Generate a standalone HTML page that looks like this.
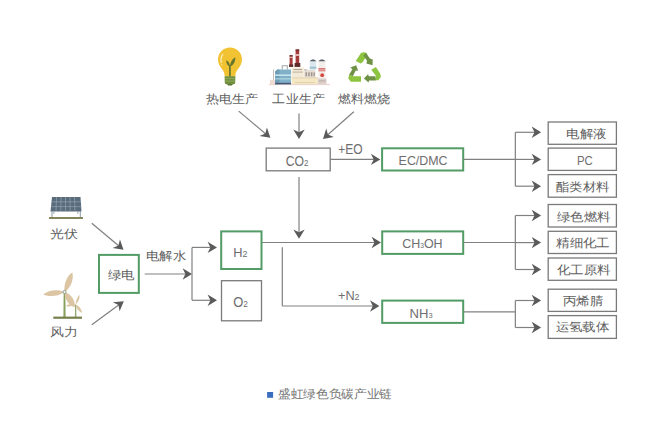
<!DOCTYPE html>
<html><head><meta charset="utf-8">
<style>
html,body{margin:0;padding:0;background:#ffffff;}
body{width:667px;height:425px;overflow:hidden;position:relative;}
svg{position:absolute;left:0;top:0;}
text{font-family:"Liberation Sans", sans-serif;}
</style></head><body>
<svg width="667" height="425" viewBox="0 0 667 425">

<!-- bulb -->
<g>
  <path d="M230 47.4 C 236.8 47.4 242 52.6 242 59.2 C 242 63.6 240.2 66.4 238 69 C 236.2 71.2 235.4 73.2 235.3 76.5 L 224.7 76.5 C 224.6 73.2 223.8 71.2 222 69 C 219.8 66.4 218 63.6 218 59.2 C 218 52.6 223.2 47.4 230 47.4 Z" fill="#f1c232"/>
  <path d="M221.3 62.5 C 220.6 59.5 221 56.5 222.8 54.3" stroke="#fbeec0" stroke-width="1.2" fill="none" stroke-linecap="round"/>
  <circle cx="221.8" cy="64.8" r="0.6" fill="#fbeec0"/>
  <path d="M229.9 76.5 L229.9 65.5" stroke="#66772c" stroke-width="1.7" fill="none"/>
  <path d="M229.9 66.5 C 227.5 65.8 226 63.5 226.3 60.2 C 228.6 61.2 230 63.5 229.9 66.5 Z" fill="#66772c"/>
  <path d="M229.9 66.8 C 230.2 62.5 232.3 58.8 235.3 57.3 C 235.5 61.5 233.5 65.2 229.9 66.8 Z" fill="#66772c"/>
  <path d="M224.6 76.3 L235.4 76.3 L235.2 82.6 C 235.2 83.5 234.5 84.2 233.6 84.2 L226.4 84.2 C 225.5 84.2 224.8 83.5 224.8 82.6 Z" fill="#6f8e3e"/>
  <rect x="224.8" y="78.2" width="10.4" height="0.9" fill="#93b060"/>
  <rect x="224.9" y="80.6" width="10.2" height="0.9" fill="#93b060"/>
  <path d="M227 84 L233 84 L231.8 85.6 L228.2 85.6 Z" fill="#5b7530"/>
</g>
<!-- factory -->
<g>
  <rect x="269" y="84" width="61" height="1.1" fill="#ecd3cc"/>
  <rect x="273.2" y="69.5" width="0.8" height="10.5" fill="#b8b0ae"/>
  <rect x="270" y="79.8" width="5.2" height="4.5" fill="#efdcd4"/>
  <path d="M282.3 69.5 L282.3 65.8 L287.3 65.8 L287.3 69.5" stroke="#a3a8ad" stroke-width="1.1" fill="none"/>
  <path d="M275.1 71.4 L277.5 69.4 L291 69.4 L291 84.3 L275.1 84.3 Z" fill="#80b1c9"/>
  <path d="M275.1 71.4 L277.5 69.4 L279.5 69.4 L279.5 84.3 L275.1 84.3 Z" fill="#6f9db5"/>
  <rect x="275.1" y="74.4" width="15.9" height="1.6" fill="#c2e4ec"/>
  <rect x="275.1" y="78.3" width="15.9" height="1.1" fill="#b6dbe6"/>
  <rect x="275.1" y="82.8" width="15.9" height="1.5" fill="#4a5676"/>
  <path d="M289.6 55.2 L292.6 55.2 L292.6 64.2 L293.2 66.8 L289 66.8 L289.6 64.2 Z" fill="#a53a3a"/>
  <rect x="289.6" y="55.2" width="3" height="1.2" fill="#6b2a2a"/>
  <rect x="289.6" y="56.8" width="3" height="1" fill="#efd6d0"/>
  <rect x="289" y="64.5" width="4.2" height="2.3" fill="#5e2b2b"/>
  <path d="M295.6 49.5 L299.2 49.5 L299.2 62.7 L300.3 66.8 L294.6 66.8 L295.6 62.7 Z" fill="#a53a3a"/>
  <rect x="295.6" y="49.5" width="3.6" height="1.3" fill="#6b2a2a"/>
  <rect x="295.6" y="54.2" width="3.6" height="1.6" fill="#f0d8d2"/>
  <rect x="294.6" y="63" width="5.7" height="3.8" fill="#5e2b2b"/>
  <rect x="291.6" y="67.6" width="12.2" height="9.9" fill="#f4ead8"/>
  <rect x="293.5" y="69" width="8.5" height="0.8" fill="#9a8f86"/>
  <rect x="292.6" y="71.5" width="10.2" height="1.2" fill="#c4b8a6"/>
  <rect x="304.2" y="69.8" width="11.2" height="7.8" fill="#e6ddd6"/>
  <rect x="304.2" y="69.3" width="2.5" height="1" fill="#b8aea6"/>
  <rect x="305.5" y="72.3" width="1.5" height="4" fill="#9f948b"/>
  <rect x="308.2" y="72.3" width="1.5" height="4" fill="#9f948b"/>
  <rect x="310.9" y="72.3" width="1.5" height="4" fill="#9f948b"/>
  <rect x="313.5" y="72.3" width="1.3" height="4" fill="#9f948b"/>
  <path d="M309.8 61 C 310.5 59.8 312 59.4 313 59.4 C 314 59.4 315.6 59.8 316.3 61 L316.3 69.8 L309.8 69.8 Z" fill="#dce8ee"/>
  <path d="M309.8 61.3 C 310.5 59.8 312 59.4 313 59.4 C 314 59.4 315.6 59.8 316.3 61.3 Z" fill="#5a5f66"/>
  <rect x="309.8" y="66.7" width="6.5" height="2" fill="#9cc0cf"/>
  <path d="M318.4 61 C 319.2 59.8 320.8 59.4 321.9 59.4 C 323 59.4 324.6 59.8 325.4 61 L325.4 78.4 L318.4 78.4 Z" fill="#f3eeea"/>
  <path d="M318.4 61.3 C 319.2 59.8 320.8 59.4 321.9 59.4 C 323 59.4 324.6 59.8 325.4 61.3 Z" fill="#5a5f66"/>
  <rect x="318.4" y="68.3" width="7" height="1.2" fill="#cf4a4a"/>
  <rect x="318.4" y="70.3" width="7" height="1" fill="#d86a6a"/>
  <circle cx="322.2" cy="75.2" r="1.9" fill="#d4493f"/>
  <rect x="291.6" y="77.4" width="26.3" height="6.6" fill="#f5e8c4"/>
  <rect x="291.6" y="77.4" width="26.3" height="1" fill="#e2cfb4"/>
  <rect x="295" y="82" width="20" height="0.7" fill="#d8c6a0"/>
  <rect x="317.9" y="78.4" width="8.6" height="5.6" fill="#dcd0cc"/>
  <rect x="319" y="80.5" width="6.5" height="0.9" fill="#b0a098"/>
</g>
<!-- recycle -->
<g>
  <polygon points="355.7,61.1 361.0,52.9 363.5,52.2 365.8,52.5 367.4,54.6 362.8,62.0 360.6,63.6" fill="#8dc440"/>
  <polygon points="366.0,53.0 369.9,58.6 372.7,59.4 372.6,65.2 366.4,63.6 367.0,60.8 363.4,55.6" fill="#6f9146"/>
  <polygon points="371.3,69.8 375.9,66.9 380.4,73.9 380.8,77.2 378.3,80.3 374.6,80.3 376.2,76.3" fill="#8dc440"/>
  <polygon points="375.6,76.3 375.6,80.5 369.0,80.5 368.6,82.6 363.9,78.4 368.0,74.2 368.9,76.3" fill="#6f9146"/>
  <polygon points="361.0,76.3 361.0,81.7 350.8,81.7 348.3,78.6 349.1,74.7 352.8,76.3" fill="#8dc440"/>
  <polygon points="349.1,74.7 352.8,76.3 355.7,70.6 358.2,70.8 356.1,65.2 350.3,67.6 352.4,69.3" fill="#6f9146"/>
</g>
<!-- solar -->
<g>
  <path d="M52 197 L80.5 197 L81.5 211.5 L50.5 211.5 Z" fill="#5a6c7c"/>
  <g stroke="#9aabb8" stroke-width="0.6">
    <line x1="51.5" y1="201.8" x2="80.9" y2="201.8"/>
    <line x1="51" y1="206.6" x2="81.2" y2="206.6"/>
    <line x1="56.5" y1="197" x2="56" y2="211.5"/>
    <line x1="61" y1="197" x2="60.8" y2="211.5"/>
    <line x1="65.5" y1="197" x2="65.5" y2="211.5"/>
    <line x1="70" y1="197" x2="70.2" y2="211.5"/>
    <line x1="74.5" y1="197" x2="75" y2="211.5"/>
  </g>
  <rect x="51.5" y="211" width="1" height="6" fill="#8a9aa6"/>
  <rect x="79.8" y="211" width="1" height="6" fill="#8a9aa6"/>
  <rect x="53.5" y="211" width="0.8" height="3" fill="#8a9aa6"/>
  <rect x="77.5" y="211" width="0.8" height="3" fill="#8a9aa6"/>
  <rect x="49" y="217" width="34" height="2" fill="#85855c"/>
</g>
<!-- wind -->
<g>
  <path d="M63.7 292 L65.3 292 L65.6 317 L63.4 317 Z" fill="#86a05a"/>
  <path d="M75.1 304.5 L76.2 304.5 L76.4 317 L74.9 317 Z" fill="#91a870"/>
  <path d="M64.5 292 C 63.5 284 67 275.5 72.3 272.5 C 74.2 279 70.5 288.5 64.5 292 Z" fill="#dcc5a3"/>
  <path d="M64.5 292 C 58 296.8 48 297 43.3 294.6 C 48 290 58 289 64.5 292 Z" fill="#dcc5a3"/>
  <path d="M64.5 292 C 71.5 294 75.5 301 74.8 307.2 C 68.5 306 64.5 298.5 64.5 292 Z" fill="#dcc5a3"/>
  <path d="M75.6 304.5 C 75.8 300.5 77.5 296.5 79.5 294.8 C 80 298.5 78 302.5 75.6 304.5 Z" fill="#dcc5a3"/>
  <path d="M75.6 304.5 C 72 306.5 68 306.8 65.5 306 C 68 303.8 72 303.5 75.6 304.5 Z" fill="#dcc5a3"/>
  <path d="M75.6 304.5 C 79 305.5 81.5 309.5 82.2 312.8 C 78.5 311.5 76 308 75.6 304.5 Z" fill="#dcc5a3"/>
  <circle cx="64.5" cy="292" r="1.6" fill="#f4f4f4" stroke="#6a8a7a" stroke-width="0.7"/>
  <rect x="53.3" y="316.6" width="28.7" height="2.2" fill="#75804c"/>
</g>

<line x1="238.7" y1="111.1" x2="265.81090823988967" y2="133.93473974779351" stroke="#808080" stroke-width="1.2"/>
<polygon points="270.40,137.80 259.54,136.10 265.35,133.55 266.88,127.38" fill="#5a5a5a"/>
<line x1="299" y1="113.5" x2="299.0" y2="132.9" stroke="#808080" stroke-width="1.2"/>
<polygon points="299.00,138.90 293.30,129.50 299.00,132.30 304.70,129.50" fill="#5a5a5a"/>
<line x1="353.8" y1="111.7" x2="327.4900816353688" y2="135.0201549141049" stroke="#808080" stroke-width="1.2"/>
<polygon points="323.00,139.00 326.25,128.50 327.94,134.62 333.82,137.03" fill="#5a5a5a"/>
<rect x="266.2" y="148.1" width="64.00" height="22.70" fill="none" stroke="#7a7a7a" stroke-width="1.3"/>
<line x1="330.2" y1="159.4" x2="374.3" y2="159.4" stroke="#808080" stroke-width="1.2"/>
<polygon points="380.30,159.40 370.90,165.10 373.70,159.40 370.90,153.70" fill="#5a5a5a"/>
<rect x="382.1" y="148.3" width="81.10" height="22.20" fill="none" stroke="#539c66" stroke-width="2"/>
<line x1="463.2" y1="159.4" x2="515.35" y2="159.4" stroke="#808080" stroke-width="1.2"/>
<line x1="515.35" y1="132.3" x2="515.35" y2="186.2" stroke="#808080" stroke-width="1.2"/>
<line x1="515.35" y1="132.3" x2="535.1" y2="132.3" stroke="#808080" stroke-width="1.2"/>
<polygon points="541.10,132.30 531.70,138.00 534.50,132.30 531.70,126.60" fill="#5a5a5a"/>
<line x1="515.35" y1="159.4" x2="535.1" y2="159.4" stroke="#808080" stroke-width="1.2"/>
<polygon points="541.10,159.40 531.70,165.10 534.50,159.40 531.70,153.70" fill="#5a5a5a"/>
<line x1="515.35" y1="186.2" x2="535.1" y2="186.2" stroke="#808080" stroke-width="1.2"/>
<polygon points="541.10,186.20 531.70,191.90 534.50,186.20 531.70,180.50" fill="#5a5a5a"/>
<rect x="548.2" y="122" width="68.20" height="22.30" fill="none" stroke="#7a7a7a" stroke-width="1.3"/>
<rect x="548.2" y="148.1" width="68.20" height="22.30" fill="none" stroke="#7a7a7a" stroke-width="1.3"/>
<rect x="548.2" y="174.6" width="68.20" height="22.60" fill="none" stroke="#7a7a7a" stroke-width="1.3"/>
<line x1="299" y1="176.9" x2="299.0" y2="232.8" stroke="#808080" stroke-width="1.2"/>
<polygon points="299.00,238.80 293.30,229.40 299.00,232.20 304.70,229.40" fill="#5a5a5a"/>
<line x1="261.5" y1="242.5" x2="375" y2="242.5" stroke="#808080" stroke-width="1.2"/>
<polygon points="381.00,242.50 371.60,248.20 374.40,242.50 371.60,236.80" fill="#5a5a5a"/>
<rect x="382.2" y="231.4" width="81.00" height="22.50" fill="none" stroke="#539c66" stroke-width="2"/>
<line x1="463.2" y1="242.5" x2="515.35" y2="242.5" stroke="#808080" stroke-width="1.2"/>
<line x1="515.35" y1="215.5" x2="515.35" y2="269.5" stroke="#808080" stroke-width="1.2"/>
<line x1="515.35" y1="215.5" x2="535.1" y2="215.5" stroke="#808080" stroke-width="1.2"/>
<polygon points="541.10,215.50 531.70,221.20 534.50,215.50 531.70,209.80" fill="#5a5a5a"/>
<line x1="515.35" y1="242.6" x2="535.1" y2="242.6" stroke="#808080" stroke-width="1.2"/>
<polygon points="541.10,242.60 531.70,248.30 534.50,242.60 531.70,236.90" fill="#5a5a5a"/>
<line x1="515.35" y1="269.5" x2="535.1" y2="269.5" stroke="#808080" stroke-width="1.2"/>
<polygon points="541.10,269.50 531.70,275.20 534.50,269.50 531.70,263.80" fill="#5a5a5a"/>
<rect x="548.2" y="204.5" width="68.20" height="22.50" fill="none" stroke="#7a7a7a" stroke-width="1.3"/>
<rect x="548.2" y="231.3" width="68.20" height="22.20" fill="none" stroke="#7a7a7a" stroke-width="1.3"/>
<rect x="548.2" y="258" width="68.20" height="22.30" fill="none" stroke="#7a7a7a" stroke-width="1.3"/>
<line x1="282.3" y1="247.3" x2="282.3" y2="306" stroke="#808080" stroke-width="1.2"/>
<line x1="282.3" y1="306" x2="373.4" y2="306.0" stroke="#808080" stroke-width="1.2"/>
<polygon points="379.40,306.00 370.00,311.70 372.80,306.00 370.00,300.30" fill="#5a5a5a"/>
<rect x="382.2" y="300.6" width="81.00" height="22.30" fill="none" stroke="#539c66" stroke-width="2"/>
<line x1="463.2" y1="311.9" x2="515.35" y2="311.9" stroke="#808080" stroke-width="1.2"/>
<line x1="515.35" y1="300.5" x2="515.35" y2="327.5" stroke="#808080" stroke-width="1.2"/>
<line x1="515.35" y1="300.5" x2="535.1" y2="300.5" stroke="#808080" stroke-width="1.2"/>
<polygon points="541.10,300.50 531.70,306.20 534.50,300.50 531.70,294.80" fill="#5a5a5a"/>
<line x1="515.35" y1="327.5" x2="535.1" y2="327.5" stroke="#808080" stroke-width="1.2"/>
<polygon points="541.10,327.50 531.70,333.20 534.50,327.50 531.70,321.80" fill="#5a5a5a"/>
<rect x="548.2" y="289.2" width="68.20" height="22.20" fill="none" stroke="#7a7a7a" stroke-width="1.3"/>
<rect x="548.2" y="315.6" width="68.20" height="22.80" fill="none" stroke="#7a7a7a" stroke-width="1.3"/>
<line x1="91.8" y1="223.2" x2="118.90377201523549" y2="245.94322825253198" stroke="#808080" stroke-width="1.2"/>
<polygon points="123.50,249.80 112.64,248.12 118.44,245.56 119.96,239.39" fill="#5a5a5a"/>
<line x1="91.8" y1="324.7" x2="118.96397342303287" y2="304.7514570174602" stroke="#808080" stroke-width="1.2"/>
<polygon points="123.80,301.20 119.60,311.36 118.48,305.11 112.85,302.17" fill="#5a5a5a"/>
<rect x="99" y="254.9" width="39.80" height="38.00" fill="none" stroke="#539c66" stroke-width="2"/>
<line x1="144.7" y1="274" x2="186.0" y2="274.0" stroke="#808080" stroke-width="1.2"/>
<polygon points="192.00,274.00 182.60,279.70 185.40,274.00 182.60,268.30" fill="#5a5a5a"/>
<line x1="192" y1="247.4" x2="192" y2="300.3" stroke="#808080" stroke-width="1.2"/>
<line x1="192" y1="247.4" x2="211.0" y2="247.4" stroke="#808080" stroke-width="1.2"/>
<polygon points="217.00,247.40 207.60,253.10 210.40,247.40 207.60,241.70" fill="#5a5a5a"/>
<line x1="192" y1="300.3" x2="211.0" y2="300.3" stroke="#808080" stroke-width="1.2"/>
<polygon points="217.00,300.30 207.60,306.00 210.40,300.30 207.60,294.60" fill="#5a5a5a"/>
<rect x="221.2" y="231.4" width="40.30" height="37.60" fill="none" stroke="#539c66" stroke-width="2"/>
<rect x="221.5" y="280.7" width="40.00" height="40.10" fill="none" stroke="#7a7a7a" stroke-width="1.3"/>
<text transform="translate(205.8,102.6) scale(1.0,0.9216)" x="0" y="0" font-size="13.40" letter-spacing="-0.40" fill="#606060" text-anchor="start">热电生产</text>
<text transform="translate(272.4,102.9) scale(1.0,0.9216)" x="0" y="0" font-size="13.40" letter-spacing="-0.40" fill="#606060" text-anchor="start">工业生产</text>
<text transform="translate(338.1,102.9) scale(1.0,0.9216)" x="0" y="0" font-size="13.40" letter-spacing="-0.40" fill="#606060" text-anchor="start">燃料燃烧</text>
<text x="285.8" y="165.5" font-size="14" fill="#6e6e6e" textLength="22.70" lengthAdjust="spacingAndGlyphs">CO<tspan font-size="9">2</tspan></text>
<text x="338.2" y="153.9" font-size="13.8" fill="#6e6e6e" textLength="24.40" lengthAdjust="spacingAndGlyphs">+EO</text>
<text x="398.6" y="165" font-size="13.2" fill="#6e6e6e" textLength="49.00" lengthAdjust="spacingAndGlyphs">EC/DMC</text>
<text transform="translate(566.3,137.7) scale(1.025,0.9119)" x="0" y="0" font-size="13.40" letter-spacing="-0.40" fill="#606060" text-anchor="start">电解液</text>
<text x="577" y="165" font-size="13.5" fill="#6e6e6e" textLength="15.80" lengthAdjust="spacingAndGlyphs">PC</text>
<text transform="translate(556,191) scale(1.02,0.9119)" x="0" y="0" font-size="13.40" letter-spacing="-0.40" fill="#606060" text-anchor="start">酯类材料</text>
<text transform="translate(50.3,238.3) scale(1.06,0.9119)" x="0" y="0" font-size="13.40" letter-spacing="-0.40" fill="#606060" text-anchor="start">光伏</text>
<text transform="translate(50.1,336) scale(1.06,0.9119)" x="0" y="0" font-size="13.40" letter-spacing="-0.40" fill="#606060" text-anchor="start">风力</text>
<text transform="translate(107.5,279.4) scale(1.025,0.9119)" x="0" y="0" font-size="13.40" letter-spacing="-0.40" fill="#606060" text-anchor="start">绿电</text>
<text transform="translate(146,260.2) scale(1.025,0.9119)" x="0" y="0" font-size="13.40" letter-spacing="-0.40" fill="#606060" text-anchor="start">电解水</text>
<text x="233.2" y="256.5" font-size="13" fill="#6e6e6e" textLength="14.20" lengthAdjust="spacingAndGlyphs">H<tspan font-size="9">2</tspan></text>
<text x="233.2" y="306.7" font-size="14" fill="#6e6e6e" textLength="14.70" lengthAdjust="spacingAndGlyphs">O<tspan font-size="9">2</tspan></text>
<text x="402.2" y="248.4" font-size="13" fill="#6e6e6e" textLength="40.40" lengthAdjust="spacingAndGlyphs">CH<tspan font-size="7">3</tspan>OH</text>
<text transform="translate(557,220.7) scale(1.025,0.9119)" x="0" y="0" font-size="13.40" letter-spacing="-0.40" fill="#606060" text-anchor="start">绿色燃料</text>
<text transform="translate(556.2,247) scale(1.025,0.9119)" x="0" y="0" font-size="13.40" letter-spacing="-0.40" fill="#606060" text-anchor="start">精细化工</text>
<text transform="translate(557,274) scale(1.025,0.9119)" x="0" y="0" font-size="13.40" letter-spacing="-0.40" fill="#606060" text-anchor="start">化工原料</text>
<text x="338" y="300.4" font-size="12.8" fill="#6e6e6e" textLength="21.60" lengthAdjust="spacingAndGlyphs">+N<tspan font-size="9">2</tspan></text>
<text x="409.6" y="317.7" font-size="13.2" fill="#6e6e6e" textLength="23.00" lengthAdjust="spacingAndGlyphs">NH<tspan font-size="7.5">3</tspan></text>
<text transform="translate(563,304.5) scale(1.025,0.9119)" x="0" y="0" font-size="13.40" letter-spacing="-0.40" fill="#606060" text-anchor="start">丙烯腈</text>
<text transform="translate(555.6,331.3) scale(1.025,0.9119)" x="0" y="0" font-size="13.40" letter-spacing="-0.40" fill="#606060" text-anchor="start">运氢载体</text>
<rect x="267.1" y="392" width="6" height="5.8" fill="#3b6dbf"/>
<text transform="translate(278.0,398) scale(1,0.94)" x="0" y="0" font-size="12.8" fill="#747474" letter-spacing="0.3">盛虹绿色负碳产业链</text>
</svg>
</body></html>
